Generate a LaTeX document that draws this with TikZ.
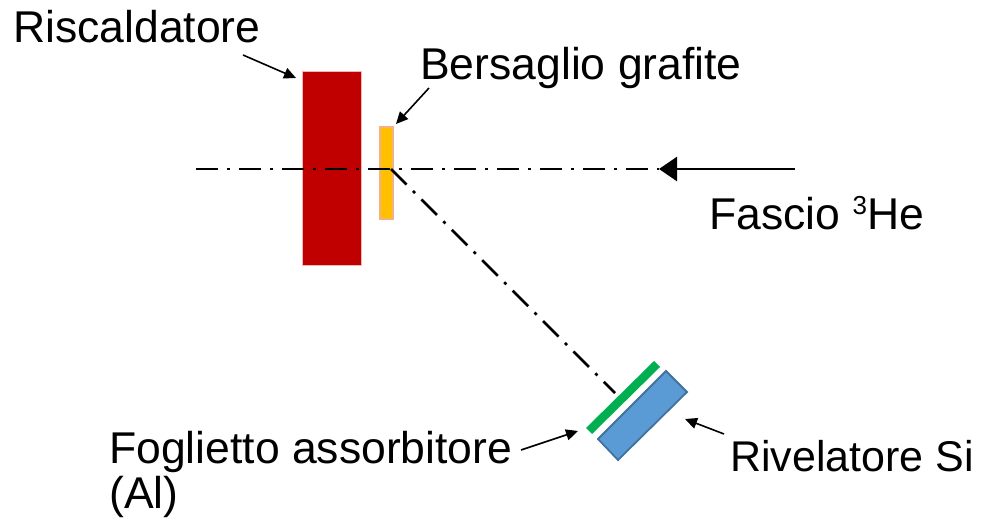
\documentclass[tikz,border=0pt]{standalone}
\usepackage{fontspec}
\setmainfont{Liberation Sans}
\usetikzlibrary{arrows.meta}
\definecolor{heater}{HTML}{C00000}
\definecolor{heaterline}{HTML}{F2B8B8}
\definecolor{target}{HTML}{FFC000}
\definecolor{targetline}{HTML}{F4B183}
\definecolor{foil}{HTML}{00B050}
\definecolor{det}{HTML}{5B9BD5}
\definecolor{detline}{HTML}{41719C}
\tikzset{
  lbl/.style={font=\fontsize{43}{36}\selectfont, inner sep=0pt, anchor=base west, align=left},
  biglbl/.style={lbl, font=\fontsize{44.5}{45}\selectfont},
  axisline/.style={line width=2.5pt, dash pattern=on 22pt off 9pt on 3pt off 9pt},
  pointer/.style={line width=1.6pt, -{Triangle[length=12pt,width=11pt]}},
}
\begin{document}
\begin{tikzpicture}[x=1pt,y=-1pt]
\useasboundingbox (0,0) rectangle (987,529);
% heater and target
\path[fill=heater, draw=heaterline, line width=1pt] (302,72) rectangle (361,265);
\path[fill=target, draw=targetline, line width=2pt] (380,127) rectangle (393,219);
% foil and detector
\path[fill=foil] (586,428) -- (654,361) -- (660,367) -- (592,434) -- cycle;
\path[fill=det, draw=detline, line width=1.8pt] (598,439) -- (666,371) -- (687,392) -- (618,460) -- cycle;
% coordinates
\coordinate (axL) at (196,169);
\coordinate (hit) at (391,169);
\coordinate (tip) at (659,169);
\coordinate (beamR) at (795,169);
\coordinate (detA) at (615,393);
\coordinate (heaterT) at (296,78);
\coordinate (targetT) at (396,124);
\coordinate (foilT) at (578,431);
\coordinate (detT) at (685,419);
% axes
\draw[axisline] (axL) -- (tip);
\draw[axisline] (hit) -- (detA);
\draw[line width=2.5pt, -{Triangle[length=18pt,width=24pt]}] (beamR) -- (tip);
% labels
\node[biglbl] (riscaldatore) at (13,43) {Riscaldatore};
\node[biglbl] (bersaglio) at (420,80) {Bersaglio grafite};
\node[biglbl] (fascio) at (709,230) {Fascio \raisebox{15pt}{\fontsize{26}{26}\selectfont 3}He};
\node[biglbl] (foglietto) at (109,508) {Foglietto assorbitore\\(Al)};
\node[lbl] (rivelatore) at (730,471) {Rivelatore Si};
% pointers
\draw[pointer] (243,55) -- (heaterT);
\draw[pointer] (429,88) -- (targetT);
\draw[pointer] (521,450) -- (foilT);
\draw[pointer] (724,434) -- (detT);
\end{tikzpicture}
\end{document}
